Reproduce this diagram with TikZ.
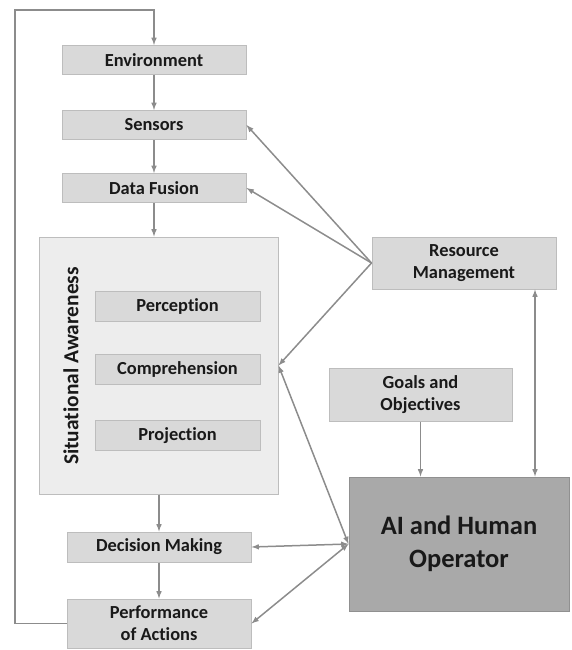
\documentclass[tikz,border=0pt]{standalone}
\usepackage{fontspec}
\setmainfont{Carlito}[Ligatures={NoCommon}]
\usepackage{tikz}
\usetikzlibrary{arrows}

\definecolor{boxfill}{HTML}{D9D9D9}
\definecolor{boxline}{HTML}{BDBDBD}
\definecolor{safill}{HTML}{EDEDED}
\definecolor{aifill}{HTML}{A9A9A9}
\definecolor{linkgray}{HTML}{8C8C8C}

\tikzset{
  stagebox/.style={draw=boxline, fill=boxfill, line width=1pt, minimum width=184pt,
    minimum height=29pt, inner sep=0pt, align=center, text=black!90,
    font=\fontsize{18.4}{22}\selectfont\bfseries},
  link/.style={draw=linkgray, line width=1.5pt, -latex},
  duallink/.style={link, latex-latex}
}

\begin{document}
\begin{tikzpicture}[x=1pt,y=-1pt]
    \useasboundingbox (0,0) rectangle (571,650);

    % main chain
    \node[stagebox] (env) at (154,60) {Environment};
    \node[stagebox] (sens) at (154,125) {Sensors};
    \node[stagebox] (fus) at (154,188) {Data Fusion};

    \node[stagebox, fill=safill, minimum width=239pt, minimum height=257pt] (sa) at (158.5,365.5) {};
    \node[rotate=90, text=black!90, font=\fontsize{21.4}{24}\selectfont\bfseries] (salabel) at (71,366) {Situational Awareness};
    \node[stagebox, minimum width=165pt, minimum height=30pt] (perc) at (177.5,306) {Perception};
    \node[stagebox, minimum width=165pt, minimum height=30pt] (comp) at (177.5,369) {Comprehension};
    \node[stagebox, minimum width=165pt, minimum height=30pt] (proj) at (177.5,435.5) {Projection};

    \node[stagebox, minimum height=30pt] (dec) at (159,547) {Decision Making};
    \node[stagebox, minimum height=49pt] (perf) at (159,623.5) {Performance\\of Actions};

    % right side
    \node[stagebox, minimum height=52pt] (res) at (464,263) {Resource\\Management};
    \node[stagebox, minimum width=183pt, minimum height=53pt] (goals) at (420.5,394.5) {Goals and\\Objectives};
    \node[stagebox, fill=aifill, draw=aifill!85!black, minimum width=220pt, minimum height=134pt,
      font=\fontsize{26.5}{33}\selectfont\bfseries] (ai) at (459,544) {AI and Human\\Operator};

    \coordinate (loop) at (15,10);

    \draw[link] (perf.west) -| (loop) -| (env.north);
    \draw[link] (env) -- (sens);
    \draw[link] (sens) -- (fus);
    \draw[link] (fus.south) -- (fus.south |- sa.north);
    \draw[link] (sa.south -| dec.north) -- (dec.north);
    \draw[link] (dec) -- (perf);

    \draw[link] (res.west) -- (sens.east);
    \draw[link] (res.west) -- (fus.east);
    \draw[link] (res.west) -- (sa.east);

    \draw[link] (goals.south) -- (goals.south |- ai.north);
    \draw[duallink] ([xshift=71pt]res.south) -- ([xshift=71pt]res.south |- ai.north);

    \draw[duallink] (ai.west) -- (sa.east);
    \draw[duallink] (ai.west) -- (dec.east);
    \draw[duallink] (ai.west) -- (perf.east);
\end{tikzpicture}
\end{document}
